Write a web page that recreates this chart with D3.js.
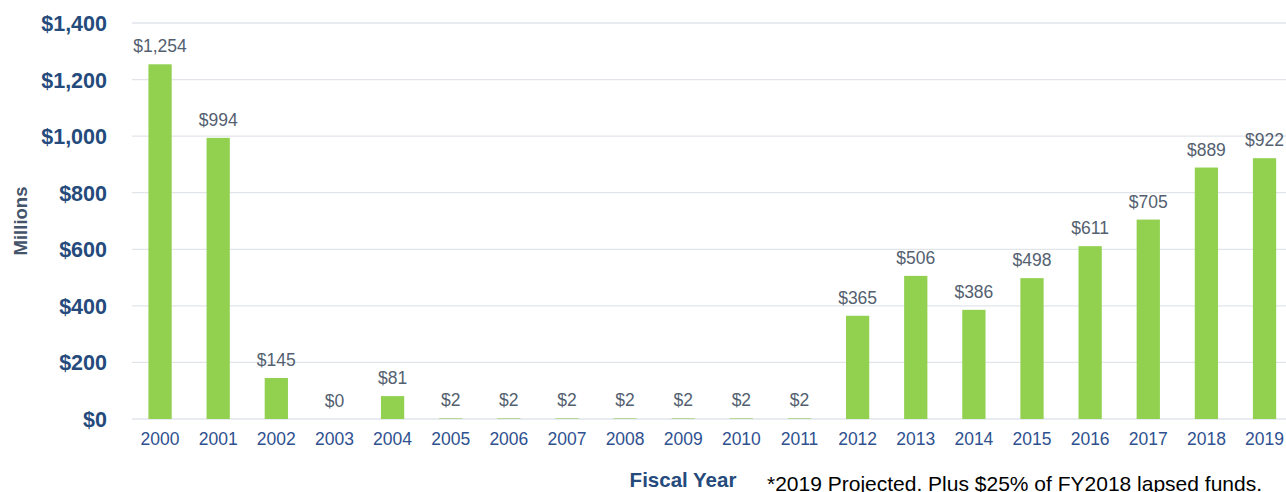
<!DOCTYPE html>
<html>
<head>
<meta charset="utf-8">
<script src="https://cdn.jsdelivr.net/npm/d3@7"></script>
<style>
  html, body { margin: 0; padding: 0; background: #fff; overflow: hidden; }
  text { font-family: "Liberation Sans", Arial, sans-serif; }
</style>
</head>
<body>
<div id="chart"></div>
<script>
// Chart data
var years = ["2000", "2001", "2002", "2003", "2004", "2005", "2006", "2007", "2008", "2009",
             "2010", "2011", "2012", "2013", "2014", "2015", "2016", "2017", "2018", "2019"];
var amounts = [1254, 994, 145, 0, 81, 2, 2, 2, 2, 2, 2, 2, 365, 506, 386, 498, 611, 705, 889, 922];
var yTicks = [0, 200, 400, 600, 800, 1000, 1200, 1400];

var width = 1286, height = 492;

var svg = d3.select("#chart")
  .append("svg")
  .attr("width", width)
  .attr("height", height);

var x = d3.scaleBand()
  .domain(years)
  .range([131, 1293.6])
  .paddingInner(0.6)
  .paddingOuter(0.3);

var y = d3.scaleLinear()
  .domain([0, 1400])
  .range([419, 23]);

// gridlines
svg.append("g")
  .selectAll("line")
  .data(yTicks)
  .enter()
  .append("line")
  .attr("x1", 132)
  .attr("x2", width)
  .attr("y1", function(d) { return y(d); })
  .attr("y2", function(d) { return y(d); })
  .attr("stroke", "#E1E5EA")
  .attr("stroke-width", 1.3);

// y axis labels
var yAxis = d3.axisLeft(y)
  .tickValues(yTicks)
  .tickSize(0)
  .tickPadding(0)
  .tickFormat(function(d) { return "$" + d3.format(",")(d); });

var gy = svg.append("g")
  .attr("transform", "translate(107,0)")
  .call(yAxis);
gy.select(".domain").remove();
gy.selectAll("text")
  .attr("fill", "#254A7C")
  .style("font-size", "21.5px")
  .style("font-weight", "bold")
  .attr("dy", "0.35em");

// x axis labels
var xAxis = d3.axisBottom(x).tickSize(0).tickPadding(0);
var gx = svg.append("g")
  .attr("transform", "translate(0,433)")
  .call(xAxis);
gx.select(".domain").remove();
gx.selectAll("text")
  .attr("fill", "#2F5190")
  .style("font-size", "17.5px");

// bars
svg.selectAll(".bar")
  .data(amounts)
  .enter()
  .append("rect")
  .attr("class", "bar")
  .attr("x", function(d, i) { return x(years[i]); })
  .attr("width", x.bandwidth())
  .attr("y", function(d) { return y(d); })
  .attr("height", function(d) { return y(0) - y(d); })
  .attr("fill", "#92D050");

// value labels
svg.selectAll(".lbl")
  .data(amounts)
  .enter()
  .append("text")
  .attr("class", "lbl")
  .attr("x", function(d, i) { return x(years[i]) + x.bandwidth() / 2; })
  .attr("y", function(d) { return y(d) - 12; })
  .attr("text-anchor", "middle")
  .attr("fill", "#545F70")
  .style("font-size", "17.5px")
  .text(function(d) { return "$" + d3.format(",")(d); });

// y title
svg.append("text")
  .attr("transform", "translate(27,221) rotate(-90)")
  .attr("text-anchor", "middle")
  .attr("fill", "#44546A")
  .style("font-size", "18.5px")
  .style("font-weight", "bold")
  .text("Millions");

// x title
svg.append("text")
  .attr("x", 683)
  .attr("y", 487)
  .attr("text-anchor", "middle")
  .attr("fill", "#254A7C")
  .style("font-size", "20.5px")
  .style("font-weight", "bold")
  .text("Fiscal Year");

// footnote
svg.append("text")
  .attr("x", 767)
  .attr("y", 491)
  .attr("fill", "#000")
  .style("font-size", "21px")
  .text("*2019 Projected. Plus $25% of FY2018 lapsed funds.");
</script>
</body>
</html>
